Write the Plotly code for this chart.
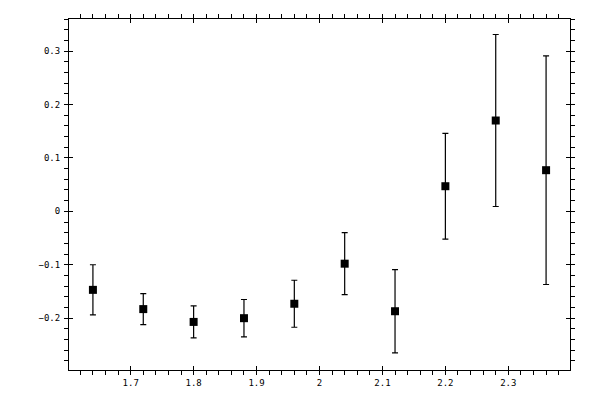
import plotly.graph_objects as go

# data
x_vals = [1.64, 1.72, 1.80, 1.88, 1.96, 2.04, 2.12, 2.20, 2.28, 2.36]
y_vals = [-0.147, -0.183, -0.207, -0.200, -0.173, -0.098, -0.187, 0.047, 0.170, 0.077]
y_err = [0.047, 0.029, 0.030, 0.035, 0.044, 0.058, 0.078, 0.099, 0.161, 0.214]

x_range = [1.602, 2.398]
y_range = [-0.297, 0.36]

fig = go.Figure()

fig.add_trace(go.Scatter(
    x=x_vals, y=y_vals, mode="markers",
    marker=dict(symbol="square", size=8, color="black"),
    error_y=dict(type="data", array=y_err, visible=True,
                 color="black", thickness=1.2, width=3),
    showlegend=False,
))

# invisible trace so the overlay axes (inner half of the major ticks) get drawn
fig.add_trace(go.Scatter(x=[x_range[0]], y=[y_range[0]], mode="markers",
                         marker=dict(opacity=0), xaxis="x2", yaxis="y2",
                         showlegend=False, hoverinfo="skip"))

tickfont = dict(family="DejaVu Sans Mono", size=9, color="black")

fig.update_layout(
    width=600, height=400,
    margin=dict(l=61, r=38, t=11, b=38, pad=0, autoexpand=False),
    paper_bgcolor="white", plot_bgcolor="white",
    font=tickfont,
    xaxis=dict(range=x_range, dtick=0.1, tick0=1.7, showgrid=False, zeroline=False,
               showline=True, linecolor="black", linewidth=1, mirror="ticks",
               ticks="outside", ticklen=4, tickcolor="black", tickwidth=1,
               minor=dict(dtick=0.02, ticks="outside", ticklen=4, tickcolor="black", showgrid=False),
               tickfont=tickfont, automargin=False),
    yaxis=dict(range=y_range, dtick=0.1, tick0=0, showgrid=False, zeroline=False,
               showline=True, linecolor="black", linewidth=1, mirror="ticks",
               ticks="outside", ticklen=4, tickcolor="black", tickwidth=1,
               minor=dict(dtick=0.02, ticks="outside", ticklen=4, tickcolor="black", showgrid=False),
               tickfont=tickfont, ticklabelstandoff=2, automargin=False),
    xaxis2=dict(overlaying="x", matches="x", range=x_range, dtick=0.1, tick0=1.7,
                showgrid=False, zeroline=False, showline=False, mirror="ticks",
                ticks="inside", ticklen=4, tickcolor="black", showticklabels=False,
                automargin=False),
    yaxis2=dict(overlaying="y", matches="y", range=y_range, dtick=0.1, tick0=0,
                showgrid=False, zeroline=False, showline=False, mirror="ticks",
                ticks="inside", ticklen=4, tickcolor="black", showticklabels=False,
                automargin=False),
)

fig.write_html("out.html")
